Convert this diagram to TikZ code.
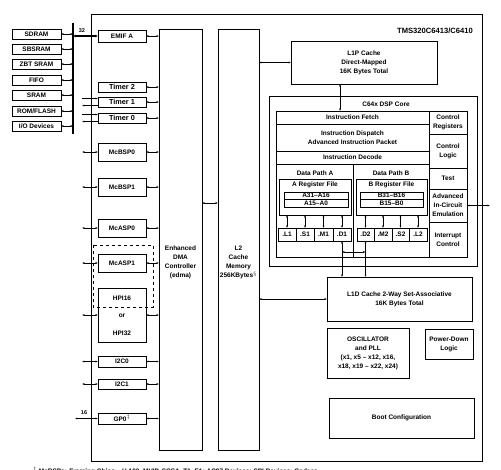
\documentclass[tikz,border=0pt]{standalone}
\usepackage{fontspec}
\setmainfont{Liberation Sans}
\usetikzlibrary{arrows.meta,calc}
\newcommand\ft{\fontsize{6.5}{9}\selectfont\bfseries}
\newcommand\fts{\fontsize{5.5}{6}\selectfont\bfseries}
\newcommand\mybox[7][]{\node[box,minimum width={(#5)-(#3)},minimum height={(#6)-(#4)},#1] (#2) at (#3,#4) {#7};}
\begin{document}
\begin{tikzpicture}[x=1pt,y=-1pt,
 box/.style={draw,line width=0.75pt,inner sep=0pt,outer sep=0pt,anchor=north west,align=center,font=\ft},
 txt/.style={inner sep=0pt,align=center,font=\ft},
 dar/.style={line width=0.6pt,{Latex[length=2.4pt,width=2pt]}-{Latex[length=2.4pt,width=2pt]}},
 sar/.style={line width=0.6pt,-{Latex[length=2.4pt,width=2pt]}}]
\useasboundingbox (0,0) rectangle (501,469);
\fill[white] (0,0) rectangle (501,469);
% chip outline
\mybox{chip}{91}{14}{482}{461}{}
\node[txt,font=\fontsize{7.6}{9}\selectfont\bfseries] (title) at (435,31) {TMS320C6413/C6410};
% external memory devices
\mybox{sdram}{12}{29}{61}{39}{SDRAM}
\mybox{sbsram}{12}{44}{61}{54}{SBSRAM}
\mybox{zbt}{12}{59}{61}{69}{ZBT SRAM}
\mybox{fifo}{12}{75}{61}{85}{FIFO}
\mybox{sram}{12}{90}{61}{100}{SRAM}
\mybox{rom}{12}{106}{61}{116}{ROM/FLASH}
\mybox{io}{12}{121}{61}{131}{I/O Devices}
\coordinate (bustop) at (73,23);
\coordinate (busbot) at (73,134);
\draw[line width=1.8pt] (bustop) -- (busbot);
\foreach \n in {sdram,sbsram,zbt,fifo,sram,rom,io}
  \draw[dar] (\n.east) -- (\n.east -| bustop);
% peripherals
\mybox{emif}{98}{30}{146}{42}{EMIF A}
\mybox[font=\fontsize{7.3}{9}\selectfont\bfseries]{timer2}{98}{82}{146}{92}{Timer 2}
\mybox[font=\fontsize{7.3}{9}\selectfont\bfseries]{timer1}{98}{97}{146}{107}{Timer 1}
\mybox[font=\fontsize{7.3}{9}\selectfont\bfseries]{timer0}{98}{113}{146}{123}{Timer 0}
\mybox{mcbsp0}{98}{143}{146}{161}{McBSP0}
\mybox{mcbsp1}{98}{178}{146}{196}{McBSP1}
\mybox{mcasp0}{98}{219}{146}{237}{McASP0}
\mybox{mcasp1}{98}{254}{146}{272}{McASP1}
\mybox{hpi}{98}{288}{146}{342}{}
\node[txt] (hpi16) at (122,298) {HPI16};
\node[txt] (hpior) at (122,316) {or};
\node[txt] (hpi32) at (122,333) {HPI32};
\draw[dashed,line width=0.75pt] (93,245) rectangle (153,307);
\mybox{i2c0}{98}{356}{146}{367}{I2C0}
\mybox{i2c1}{98}{379}{146}{389}{I2C1}
\mybox{gp0}{98}{413}{146}{424}{GP0$^{\ddagger}$}
% EDMA and L2
\mybox{edma}{159}{29}{202}{450}{}
\node[txt] (edmatxt) at (180.5,262.5) {Enhanced\\DMA\\Controller\\(edma)};
\mybox{l2}{218}{29}{259}{450}{}
\node[txt] (l2txt) at (238.5,262.5) {L2\\Cache\\Memory\\256KBytes$^{\S}$};
% bus to EMIF
\draw[line width=1.5pt,{Latex[length=3pt,width=3pt]}-{Latex[length=3pt,width=3pt]}] (emif.west -| bustop) -- (emif.west);
\node[txt,font=\fts] (w32) at (82,31) {32};
% right side connectors
\foreach \n in {emif,timer2,timer1,timer0,mcbsp0,mcbsp1,mcasp0,mcasp1,hpi,i2c0,i2c1,gp0}
  \draw[dar] (\n.east) -- (\n.east -| edma.west);
% left side connectors
\coordinate (lx) at (82,0);
\coordinate (gx) at (75,0);
\foreach \n in {mcbsp0,mcbsp1,mcasp0,mcasp1,hpi,i2c0,i2c1}
  \draw[dar] (\n.west) -- (\n.west -| lx);
\draw[dar] (gp0.west) -- (gp0.west -| gx);
\node[txt,font=\fts] (w16) at (84,413) {16};
\draw[sar] ([yshift=3.5pt]timer1.west -| lx) -- ([yshift=3.5pt]timer1.west);
\draw[sar] ([yshift=-3.5pt]timer1.west) -- ([yshift=-3.5pt]timer1.west -| lx);
\draw[sar] ([yshift=3.5pt]timer0.west -| lx) -- ([yshift=3.5pt]timer0.west);
\draw[sar] ([yshift=-3.5pt]timer0.west) -- ([yshift=-3.5pt]timer0.west -| lx);
% EDMA to L2
\coordinate (ey) at (0,203);
\draw[dar] (edma.east |- ey) -- (l2.west |- ey);
% L1P
\mybox{l1p}{291}{41}{437}{84}{L1P Cache\\Direct-Mapped\\16K Bytes Total}
\draw[dar] (l2.east |- l1p.west) -- (l1p.west);
% DSP core
\mybox{core}{269}{96}{477}{266}{}
\node[txt] (coretxt) at (386,104.5) {C64x DSP Core};
\mybox{fetch}{276}{111}{429}{124}{Instruction Fetch}
\mybox{dispatch}{276}{124}{429}{151}{Instruction Dispatch\\Advanced Instruction Packet}
\mybox{decode}{276}{151}{429}{164}{Instruction Decode}
\mybox{dpa}{276}{164}{353}{257}{}
\mybox{dpb}{353}{164}{429}{257}{}
\node[txt] (dpatxt) at (315,173) {Data Path A};
\node[txt] (dpbtxt) at (391,173) {Data Path B};
\mybox{areg}{279}{179}{351}{215}{}
\mybox{breg}{356}{179}{427}{215}{}
\node[txt] (aregtxt) at (315,185) {A Register File};
\node[txt] (bregtxt) at (391.5,185) {B Register File};
\mybox{ahi}{284}{192}{348}{199.5}{A31--A16}
\mybox{alo}{284}{199.5}{348}{207}{A15--A0}
\mybox{bhi}{360}{192}{423}{199.5}{B31--B16}
\mybox{blo}{360}{199.5}{423}{207}{B15--B0}
\mybox{ul1}{278}{228}{296}{241}{.L1}
\mybox{us1}{296}{228}{314}{241}{.S1}
\mybox{um1}{314}{228}{333}{241}{.M1}
\mybox{ud1}{333}{228}{351}{241}{.D1}
\mybox{ud2}{357}{228}{374}{241}{.D2}
\mybox{um2}{374}{228}{392}{241}{.M2}
\mybox{us2}{392}{228}{409}{241}{.S2}
\mybox{ul2}{409}{228}{427}{241}{.L2}
\foreach \n in {ul1,us1,um1,ud1}
  \draw[dar] (\n.north) -- (\n.north |- areg.south);
\foreach \n in {ud2,um2,us2,ul2}
  \draw[dar] (\n.north) -- (\n.north |- breg.south);
\mybox{creg}{429}{111}{467}{134}{Control\\Registers}
\mybox{clogic}{429}{134}{467}{168}{Control\\Logic}
\mybox{test}{429}{168}{467}{189}{Test}
\mybox{aice}{429}{189}{467}{222}{Advanced\\In-Circuit\\Emulation}
\mybox{intc}{429}{222}{467}{257}{Interrupt\\Control}
\coordinate (emu) at (490,0);
\draw[dar] (aice.east) -- (aice.east -| emu);
\coordinate (fx) at (340,0);
\draw[dar] (l1p.south -| fx) -- (fetch.north -| fx);
% L1D and others
\mybox{l1d}{327}{277}{472}{321}{L1D Cache 2-Way Set-Associative\\16K Bytes Total}
\draw[dar] (l2.east |- l1d.west) -- (l1d.west);
\draw[dar] (ud1.south) -- (ud1.south |- l1d.north);
\draw[dar] (ud2.south) -- (ud2.south |- l1d.north);
\coordinate (hy) at (0,252);
\draw[dar] (ud1.south |- hy) -- (ud2.south |- hy);
\mybox{osc}{327}{328}{409}{378}{OSCILLATOR\\and PLL\\(x1, x5 -- x12, x16,\\x18, x19 -- x22, x24)}
\mybox{pdl}{425}{329}{473}{359}{Power-Down\\Logic}
\mybox{boot}{329}{398}{474}{438}{Boot Configuration}
% footnote (cut by the page edge, as in the reference)
\node[anchor=north west,inner sep=0pt,font=\ft] (fn) at (33,467) {$^{\dagger}$ McBSPs: Framing Chips -- H.100, MVIP, SCSA, T1, E1; AC97 Devices; SPI Devices; Codecs};
\end{tikzpicture}
\end{document}
